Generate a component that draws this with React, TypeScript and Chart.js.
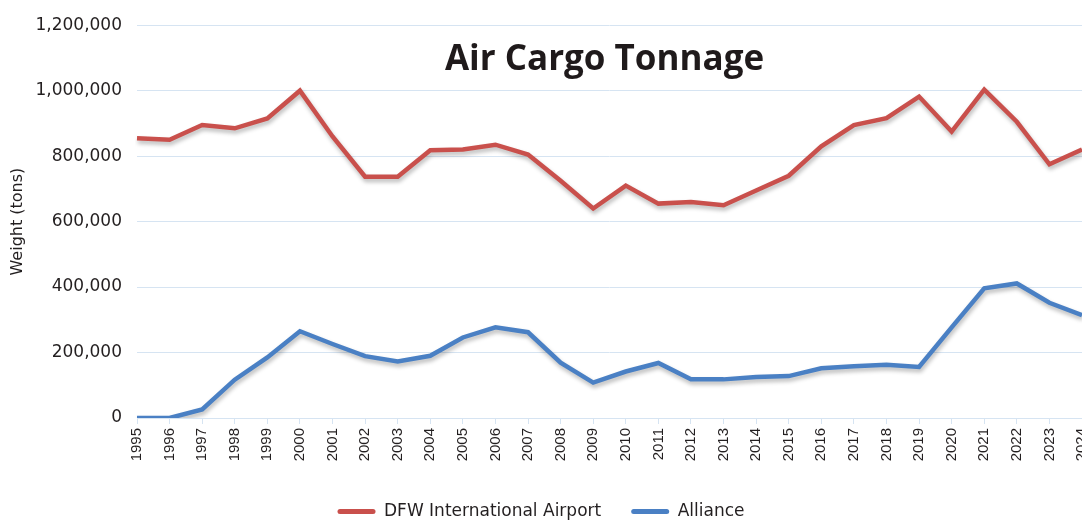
import React, { useEffect, useRef } from "react";
import { Chart, registerables } from "chart.js";

Chart.register(...registerables);

const years = [
  "1995", "1996", "1997", "1998", "1999", "2000", "2001", "2002", "2003", "2004",
  "2005", "2006", "2007", "2008", "2009", "2010", "2011", "2012", "2013", "2014",
  "2015", "2016", "2017", "2018", "2019", "2020", "2021", "2022", "2023", "2024",
];

const dfwTons = [
  855000, 850000, 895000, 885000, 915000, 1000000, 860000, 737000, 737000, 818000,
  820000, 835000, 805000, 725000, 640000, 710000, 655000, 660000, 650000, 695000,
  740000, 830000, 895000, 916000, 982000, 875000, 1003000, 905000, 775000, 820000,
];

const allianceTons = [
  0, 0, 26000, 117000, 185000, 265000, 226000, 189000, 173000, 190000,
  246000, 277000, 262000, 169000, 108000, 142000, 168000, 118000, 118000, 125000,
  128000, 152000, 158000, 163000, 156000, 277000, 396000, 411000, 352000, 314000,
];

const seriesNames = ["DFW International Airport", "Alliance"];
const seriesColors = ["#c9504c", "#4a80c4"];
const titleText = "Air Cargo Tonnage";
const yTitle = "Weight (tons)";

const gridColor = "#d6e4f2";
const textColor = "#231f20";

const shadowPlugin = {
  id: "lineShadow",
  beforeDatasetDraw(chart: any) {
    const ctx = chart.ctx;
    ctx.save();
    ctx.shadowColor = "rgba(0,0,0,0.28)";
    ctx.shadowBlur = 4;
    ctx.shadowOffsetX = 1;
    ctx.shadowOffsetY = 3;
  },
  afterDatasetDraw(chart: any) {
    chart.ctx.restore();
  },
};

const titlePlugin = {
  id: "overlayTitle",
  afterDraw(chart: any) {
    const { ctx, chartArea } = chart;
    ctx.save();
    ctx.font = "bold 35px 'Open Sans', 'DejaVu Sans', sans-serif";
    ctx.fillStyle = "#1f1a1b";
    ctx.textAlign = "center";
    ctx.textBaseline = "alphabetic";
    ctx.fillText(titleText, (chartArea.left + chartArea.right) / 2 - 5, chartArea.top + 45);
    ctx.restore();
  },
};

export default function App() {
  const canvasRef = useRef<HTMLCanvasElement | null>(null);

  useEffect(() => {
    const canvas = canvasRef.current;
    if (!canvas) return;
    const chart = new Chart(canvas, {
      type: "line",
      data: {
        labels: years,
        datasets: [
          {
            label: seriesNames[0],
            data: dfwTons,
            borderColor: seriesColors[0],
            backgroundColor: seriesColors[0],
            borderWidth: 4.5,
            pointRadius: 0,
            tension: 0,
            borderJoinStyle: "miter",
          },
          {
            label: seriesNames[1],
            data: allianceTons,
            borderColor: seriesColors[1],
            backgroundColor: seriesColors[1],
            borderWidth: 4.5,
            pointRadius: 0,
            tension: 0,
            borderJoinStyle: "miter",
          },
        ],
      },
      options: {
        animation: false,
        responsive: false,
        layout: { padding: { top: 22, right: 0, bottom: -10, left: 0 } },
        plugins: {
          legend: {
            position: "bottom",
            labels: {
              boxWidth: 38,
              boxHeight: 5,
              padding: 30,
              color: textColor,
              font: { family: "'DejaVu Sans', sans-serif", size: 17 },
              useBorderRadius: true,
              borderRadius: 2.5,
              generateLabels: (c: any) =>
                Chart.defaults.plugins.legend.labels
                  .generateLabels(c)
                  .map((l: any, i: number) => ({
                    ...l,
                    fillStyle: seriesColors[i],
                    strokeStyle: seriesColors[i],
                    lineWidth: 0,
                  })),
            },
          },
          tooltip: { enabled: false },
          title: { display: false },
        },
        scales: {
          x: {
            type: "category",
            offset: false,
            grid: {
              drawOnChartArea: false,
              drawTicks: true,
              tickLength: 6,
              color: gridColor,
            },
            border: { display: true, color: gridColor },
            ticks: {
              autoSkip: false,
              maxRotation: 90,
              minRotation: 90,
              padding: 4,
              color: textColor,
              font: { family: "'Liberation Sans', Arial, sans-serif", size: 15 },
            },
            afterFit: (s: any) => {
              s.paddingLeft = 0;
              s.paddingRight = 0;
              s.height = 55;
            },
          },
          y: {
            min: 0,
            max: 1200000,
            grid: { color: gridColor, drawTicks: false, lineWidth: 1 },
            border: { display: false },
            ticks: {
              stepSize: 200000,
              padding: 15,
              color: textColor,
              font: { family: "'DejaVu Sans', sans-serif", size: 17 },
              callback: (v: any) => Number(v).toLocaleString("en-US"),
            },
            title: {
              display: true,
              text: yTitle,
              color: textColor,
              font: { family: "'DejaVu Sans', sans-serif", size: 16 },
              padding: { top: 8, bottom: 0 },
            },
            afterFit: (s: any) => {
              s.width = 137;
            },
          },
        },
      } as any,
      plugins: [shadowPlugin, titlePlugin],
    });
    return () => chart.destroy();
  }, []);

  return (
    <div
      style={{
        position: "fixed",
        left: 0,
        top: 0,
        width: 1082,
        height: 520,
        overflow: "hidden",
        background: "#ffffff",
      }}
    >
      <canvas ref={canvasRef} width={1082} height={520} />
    </div>
  );
}
